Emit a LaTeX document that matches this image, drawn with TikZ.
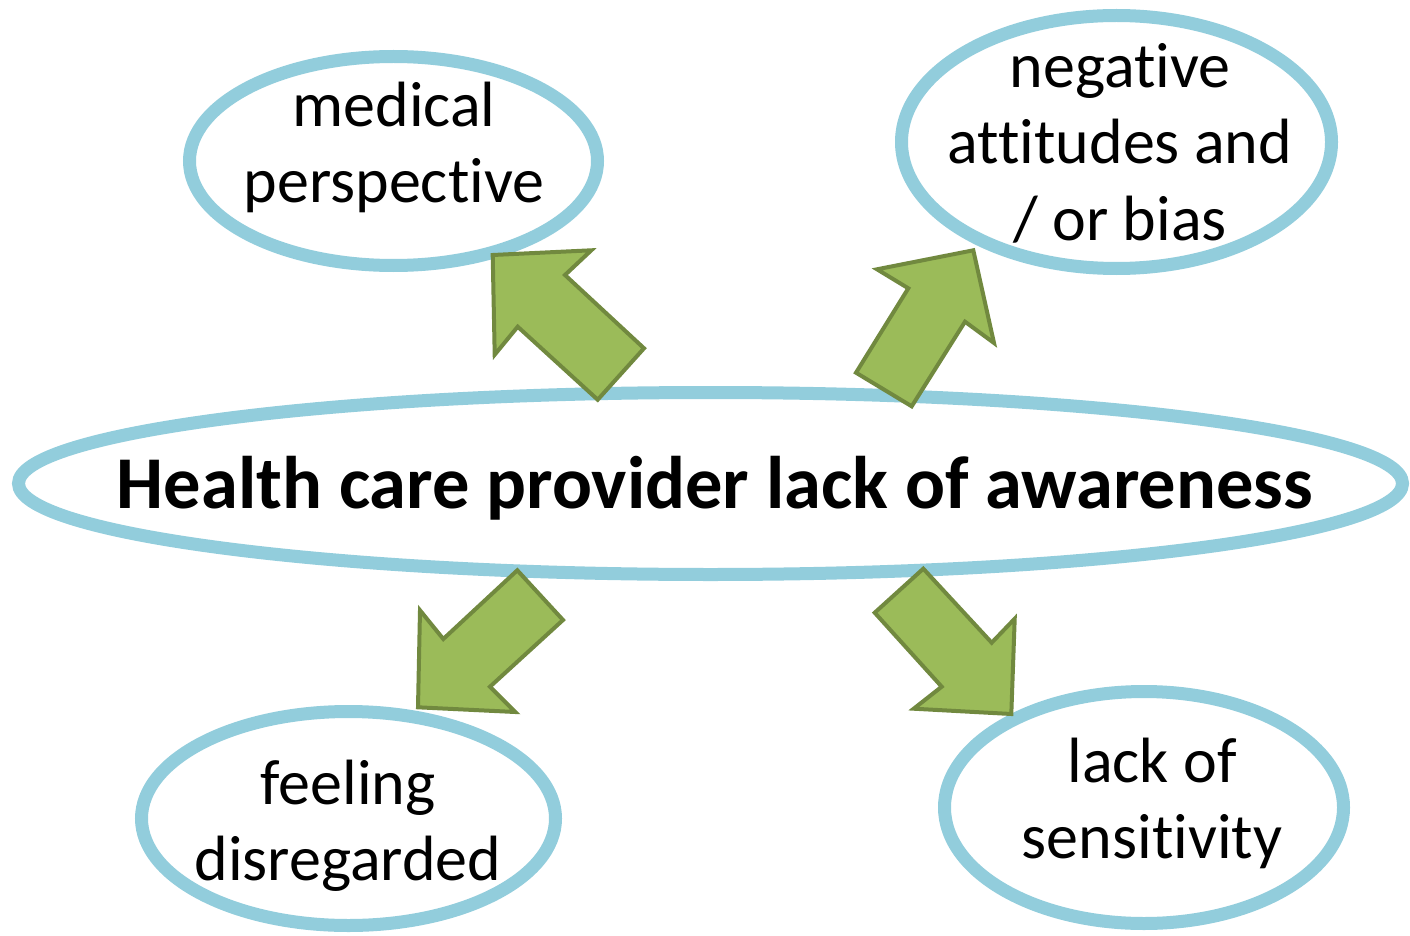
\documentclass[tikz,border=0pt]{standalone}
\usepackage{fontspec}
\setmainfont{Carlito}[Ligatures=NoCommon]
\usetikzlibrary{shapes.geometric}
\definecolor{ringblue}{HTML}{92CDDC}
\definecolor{arrowfill}{HTML}{9BBB59}
\definecolor{arrowline}{HTML}{71893F}
\tikzset{
  ring/.style={ellipse, draw=ringblue, line width=13pt, fill=white, inner sep=0pt},
  lbl/.style={align=center, anchor=base, font=\fontsize{64}{76}\selectfont, inner sep=0pt},
  blockarrow/.style={fill=arrowfill, draw=arrowline, line width=4pt, line join=miter}
}
\begin{document}
\begin{tikzpicture}[x=1pt,y=-1pt]
\useasboundingbox (0,0) rectangle (1410,936);
% ellipses
\node[ring, minimum width=1384pt, minimum height=182pt] (center) at (710.5,483.5) {};
\node[ring, minimum width=408pt, minimum height=209pt] (med) at (393.5,161) {};
\node[ring, minimum width=430pt, minimum height=253pt] (neg) at (1116.5,142) {};
\node[ring, minimum width=414pt, minimum height=214pt] (feel) at (348.5,818.5) {};
\node[ring, minimum width=399pt, minimum height=232pt] (sens) at (1144,807.5) {};
% texts
\node[anchor=base, inner sep=0pt, font=\fontsize{74.5}{90}\selectfont\bfseries] (centertxt) at (715,508) {Health care provider lack of awareness};
\node[lbl] (medtxt) at (394,203) {medical\\perspective};
\node[lbl] (negtxt) at (1120,240) {negative\\attitudes and\\/ or bias};
\node[lbl] (feeltxt) at (348,880) {feeling\\disregarded};
\node[lbl] (senstxt) at (1152,858) {lack of\\sensitivity};
% arrows
\draw[blockarrow] (597.7,399.7) -- (644,348.3) -- (565,275) -- (591.3,250.3) -- (492.7,255) -- (494.7,354.7) -- (517.7,326.7) -- cycle;
\draw[blockarrow] (856,372.7) -- (908.3,288.3) -- (877,269.3) -- (973.3,250.3) -- (994,343) -- (965,321.7) -- (911.7,406.3) -- cycle;
\draw[blockarrow] (517.3,570.3) -- (563,620) -- (490,686.7) -- (515.3,712) -- (418,707.3) -- (420,610.3) -- (443.3,639) -- cycle;
\draw[blockarrow] (923.3,568.7) -- (991.7,642.7) -- (1014.7,618.7) -- (1011.3,714) -- (913.7,708.7) -- (941.7,686.7) -- (874.7,612.7) -- cycle;
\end{tikzpicture}
\end{document}
